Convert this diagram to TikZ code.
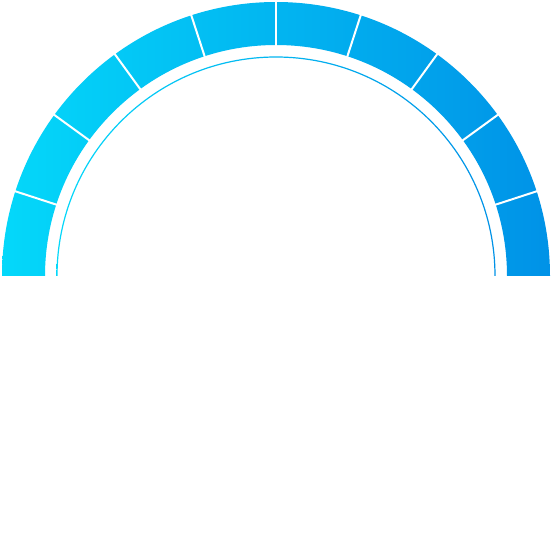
\documentclass[tikz,border=0pt]{standalone}
\definecolor{gl}{RGB}{4,216,250}
\definecolor{gr}{RGB}{0,146,231}
\tikzset{band/.style={left color=gl,right color=gr}}
\begin{document}
\begin{tikzpicture}[x=1pt,y=1pt]
\useasboundingbox[fill=white] (0,0) rectangle (552,552);
\coordinate (c) at (276,276);
% outer segmented band
\shade[band]
  (c) ++(180:274) arc[start angle=180,end angle=0,radius=274]
  -- ++(-43,0) arc[start angle=0,end angle=180,radius=231] -- cycle;
% separators
\foreach \a in {18,36,...,162}
  \draw[white,line width=2pt] (c) ++(\a:228) -- ++(\a:50);
% thin inner arc
\shade[band]
  (c) ++(180:219.6) arc[start angle=180,end angle=0,radius=219.6]
  -- ++(-1.2,0) arc[start angle=0,end angle=180,radius=218.4] -- cycle;
\end{tikzpicture}
\end{document}
